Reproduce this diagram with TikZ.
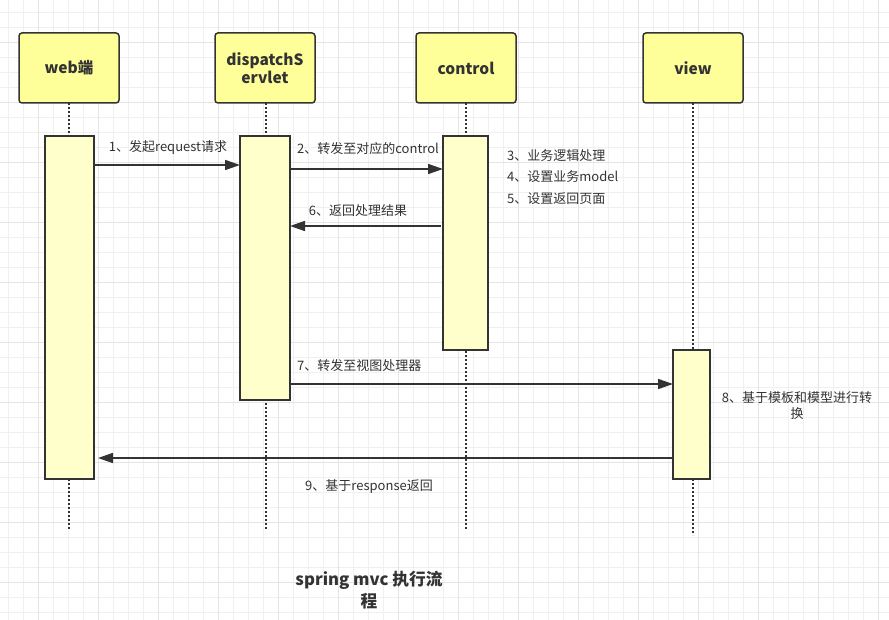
\documentclass[tikz,border=0pt]{standalone}
\usepackage{fontspec}
\setmainfont{Noto Sans CJK SC}
\usepackage{xcolor}
\usetikzlibrary{arrows.meta, positioning, calc}

\definecolor{hdrfill}{HTML}{FFFF99}
\definecolor{actfill}{HTML}{FFFFCC}
\definecolor{linecol}{HTML}{333333}
\definecolor{gridminor}{HTML}{F0F0F0}
\definecolor{gridmajor}{HTML}{E4E4E4}

\begin{document}
\begin{tikzpicture}[
    x=1pt, y=-1pt,
    head/.style={draw=linecol, fill=hdrfill, rounded corners=3pt, line width=1.5pt, minimum width=100pt, minimum height=70pt, align=center, font=\fontsize{15.5}{18}\selectfont\bfseries, text=linecol, inner sep=0pt},
    act/.style={draw=linecol, fill=actfill, line width=1.5pt},
    life/.style={draw=linecol, line width=1.6pt, dash pattern=on 1.6pt off 2.4pt},
    msg/.style={draw=linecol, line width=1.6pt, -{Triangle[length=15pt, width=10pt]}},
    lbl/.style={font=\fontsize{13}{16}\selectfont, text=linecol, inner sep=0pt},
    >=latex
  ]
  % Background
  \fill[white] (0,0) rectangle (889,620);
  \useasboundingbox (0,0) rectangle (889,620);
  \foreach \gx in {8,23,...,888} \draw[gridminor, line width=0.8pt] (\gx,0) -- (\gx,620);
  \foreach \gy in {12,27,...,619} \draw[gridminor, line width=0.8pt] (0,\gy) -- (889,\gy);
  \foreach \gx in {38,98,...,888} \draw[gridmajor, line width=0.8pt] (\gx,0) -- (\gx,620);
  \foreach \gy in {42,102,...,619} \draw[gridmajor, line width=0.8pt] (0,\gy) -- (889,\gy);

  % Lifelines
  \coordinate (webtop) at (69,103);
  \coordinate (webend) at (69,530);
  \coordinate (disptop) at (266,103);
  \coordinate (dispend) at (266,530);
  \coordinate (ctrltop) at (466,103);
  \coordinate (ctrlend) at (466,530);
  \coordinate (viewtop) at (693,103);
  \coordinate (viewend) at (693,535);
  \draw[life] (webtop) -- (webend);
  \draw[life] (disptop) -- (dispend);
  \draw[life] (ctrltop) -- (ctrlend);
  \draw[life] (viewtop) -- (viewend);

  % Nodes
  \node[head] (web) at (69,68) {web端};
  \node[head] (disp) at (265,68) {dispatchS\\ervlet};
  \node[head] (ctrl) at (466,68) {control};
  \node[head] (view) at (693,68) {view};

  \draw[act] (45,136) rectangle (94,479);
  \draw[act] (240,136) rectangle (290,400);
  \draw[act] (443,136) rectangle (488,350);
  \draw[act] (673,350) rectangle (710,479);
  \coordinate (webR1) at (94,165);
  \coordinate (dispL1) at (240,165);
  \coordinate (dispR2) at (290,169);
  \coordinate (ctrlL2) at (443,169);
  \coordinate (ctrlL6) at (441,226);
  \coordinate (dispR6) at (290,226);
  \coordinate (dispR7) at (290,384);
  \coordinate (viewL7) at (673,384);
  \coordinate (viewL9) at (673,458);
  \coordinate (webR9) at (98,458);

  % Connections
  \draw[msg] (webR1) -- (dispL1);
  \draw[msg] (dispR2) -- (ctrlL2);
  \draw[msg] (ctrlL6) -- (dispR6);
  \draw[msg] (dispR7) -- (viewL7);
  \draw[msg] (viewL9) -- (webR9);

  % Labels
  \node[lbl] (m1) at (168,148) {1、发起request请求};
  \node[lbl] (m2) at (368,149) {2、转发至对应的control};
  \node[lbl, anchor=west] (m3) at (507,156) {3、业务逻辑处理};
  \node[lbl, anchor=west] (m4) at (507,177) {4、设置业务model};
  \node[lbl, anchor=west] (m5) at (507,199) {5、设置返回页面};
  \node[lbl] (m6) at (358,211) {6、返回处理结果};
  \node[lbl, anchor=west] (m7) at (297,366) {7、转发至视图处理器};
  \node[lbl, align=center] (m8) at (797,406) {8、基于模板和模型进行转\\换};
  \node[lbl] (m9) at (369,487) {9、基于response返回};
  \node[font=\fontsize{16.7}{22}\selectfont\bfseries, text=linecol, align=center, inner sep=0pt] (title) at (369,590) {spring mvc 执行流\\程};
\end{tikzpicture}
\end{document}
